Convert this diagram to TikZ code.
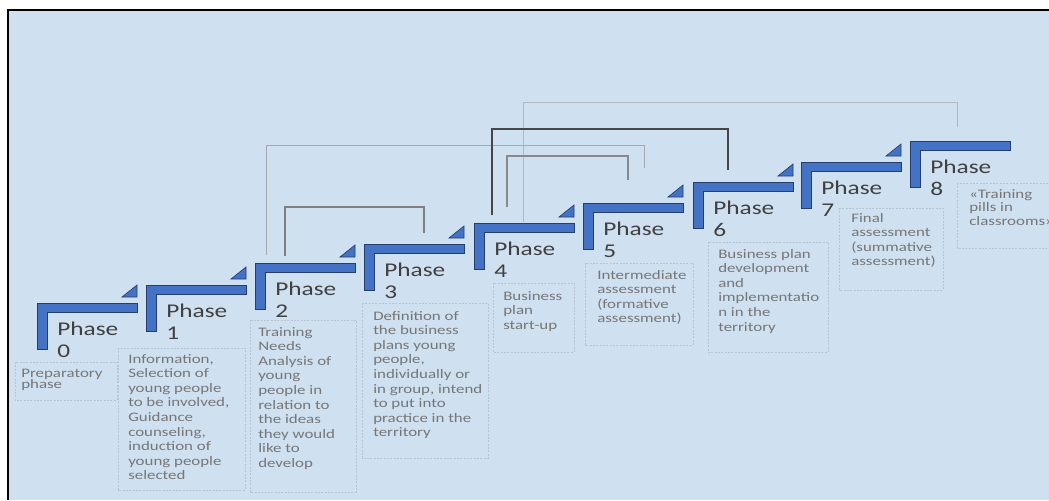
\documentclass[tikz,border=0pt]{standalone}
\usepackage{fontspec}
\newfontfamily\phfont[FakeStretch=1.3]{Carlito}
\definecolor{bg}{RGB}{207,224,241}
\definecolor{lblue}{RGB}{68,114,196}
\definecolor{ldark}{RGB}{38,62,110}
\definecolor{headc}{RGB}{64,64,64}
\definecolor{descc}{RGB}{118,118,118}
\definecolor{boxc}{RGB}{182,196,212}
\definecolor{lkA}{RGB}{165,168,172}
\definecolor{lkB}{RGB}{125,127,130}
\definecolor{lkC}{RGB}{70,70,72}
\definecolor{lkD}{RGB}{135,137,140}
\definecolor{lkE}{RGB}{178,184,190}
\tikzset{
  lshape/.style={fill=lblue,draw=ldark,line width=0.7pt,line join=miter},
  tri/.style={fill=lblue,draw=ldark,line width=0.5pt},
  head/.style={font=\phfont\fontsize{14.6}{15.75}\selectfont,text=headc,inner sep=0pt,anchor=base west},
  desc/.style={font=\phfont\fontsize{9.75}{10.95}\selectfont,text=descc,inner sep=0pt,anchor=base west,align=left},
  dbox/.style={draw=boxc,dash pattern=on 1.5pt off 1pt,line width=0.5pt},
  link/.style={line width=#1},
}
\begin{document}
\begin{tikzpicture}[x=0.75pt,y=-0.75pt]
\useasboundingbox (0,0) rectangle (1049,500);
\fill[white] (0,0) rectangle (1049,500);
\fill[bg] (8,10) rectangle (1049,500);
\draw[black,line width=1.5pt] (8,500) -- (8,10) -- (1049,10);

% description boxes
\draw[dbox] (15,362) rectangle (117,400);
\draw[dbox] (118,348) rectangle (245,490);
\draw[dbox] (250,320) rectangle (356,492);
\draw[dbox] (362,303) rectangle (488,458);
\draw[dbox] (493,283) rectangle (574,352);
\draw[dbox] (585,263) rectangle (693,345);
\draw[dbox] (708,242) rectangle (828,352);
\draw[dbox] (839,208) rectangle (943,290);
\draw[dbox] (957,183) rectangle (1056,248);

% phase steps
\foreach \i/\x/\y in {0/37/303,1/146/285,2/255/263,3/364/244,4/474/223,5/583/203,6/693/182,7/801/162,8/910/141}{
  \coordinate (L\i) at (\x,\y);
  \draw[lshape] (L\i) -- ++(100,0) -- ++(0,9) -- ++(-90,0) -- ++(0,37) -- ++(-10,0) -- cycle;
  \node[head] (ph\i) at ([shift={(20,32)}]L\i) {Phase};
  \node[head] (num\i) at ([shift={(20,54)}]L\i) {\i};
}
\foreach \i in {0,...,7}{
  \draw[tri] ([shift={(100,-6)}]L\i) -- ++(0,-12) -- ++(-15,12) -- cycle;
}

% descriptions (anchored at the baseline of the last line)
\node[desc,font=\phfont\fontsize{9.75}{8.6}\selectfont] (d0) at (21,388.5) {Preparatory\\phase};
\node[desc] (d1) at (128,479.8) {Information,\\Selection of\\young people\\to be involved,\\Guidance\\counseling,\\induction of\\young people\\selected};
\node[desc] (d2) at (258,467.4) {Training\\Needs\\Analysis of\\young\\people in\\relation to\\the ideas\\they would\\like to\\develop};
\node[desc] (d3) at (373,436.8) {Definition of\\the business\\plans young\\people,\\individually or\\in group, intend\\to put into\\practice in the\\territory};
\node[desc] (d4) at (503,329.2) {Business\\plan\\start-up};
\node[desc] (d5) at (597,322.8) {Intermediate\\assessment\\(formative\\assessment)};
\node[desc] (d6) at (718,331) {Business plan\\development\\and\\implementatio\\n in the\\territory};
\node[desc] (d7) at (851,265.8) {Final\\assessment\\(summative\\assessment)};
\node[desc,font=\phfont\fontsize{9.75}{10.1}\selectfont] (d8) at (969,225) {«Training\\pills in\\classrooms»};

% connector end points
\coordinate (A1) at (266,255); \coordinate (A2) at (644,168); \coordinate (At) at (0,145);
\coordinate (B1) at (285,256); \coordinate (B2) at (424,233); \coordinate (Bt) at (0,207);
\coordinate (C1) at (492,215); \coordinate (C2) at (728,170); \coordinate (Ct) at (0,129);
\coordinate (D1) at (507,207); \coordinate (D2) at (628,180); \coordinate (Dt) at (0,156);
\coordinate (E1) at (523,222); \coordinate (E2) at (957,127); \coordinate (Et) at (0,102);

\draw[draw=lkE,link=0.5pt] (E1) -- (E1|-Et) -- (E2|-Et) -- (E2);
\draw[draw=lkA,link=0.6pt] (A1) -- (A1|-At) -- (A2|-At) -- (A2);
\draw[draw=lkB,link=0.8pt] (B1) -- (B1|-Bt) -- (B2|-Bt) -- (B2);
\draw[draw=lkD,link=0.8pt] (D1) -- (D1|-Dt) -- (D2|-Dt) -- (D2);
\draw[draw=lkC,link=1.1pt] (C1) -- (C1|-Ct) -- (C2|-Ct) -- (C2);
\end{tikzpicture}
\end{document}
